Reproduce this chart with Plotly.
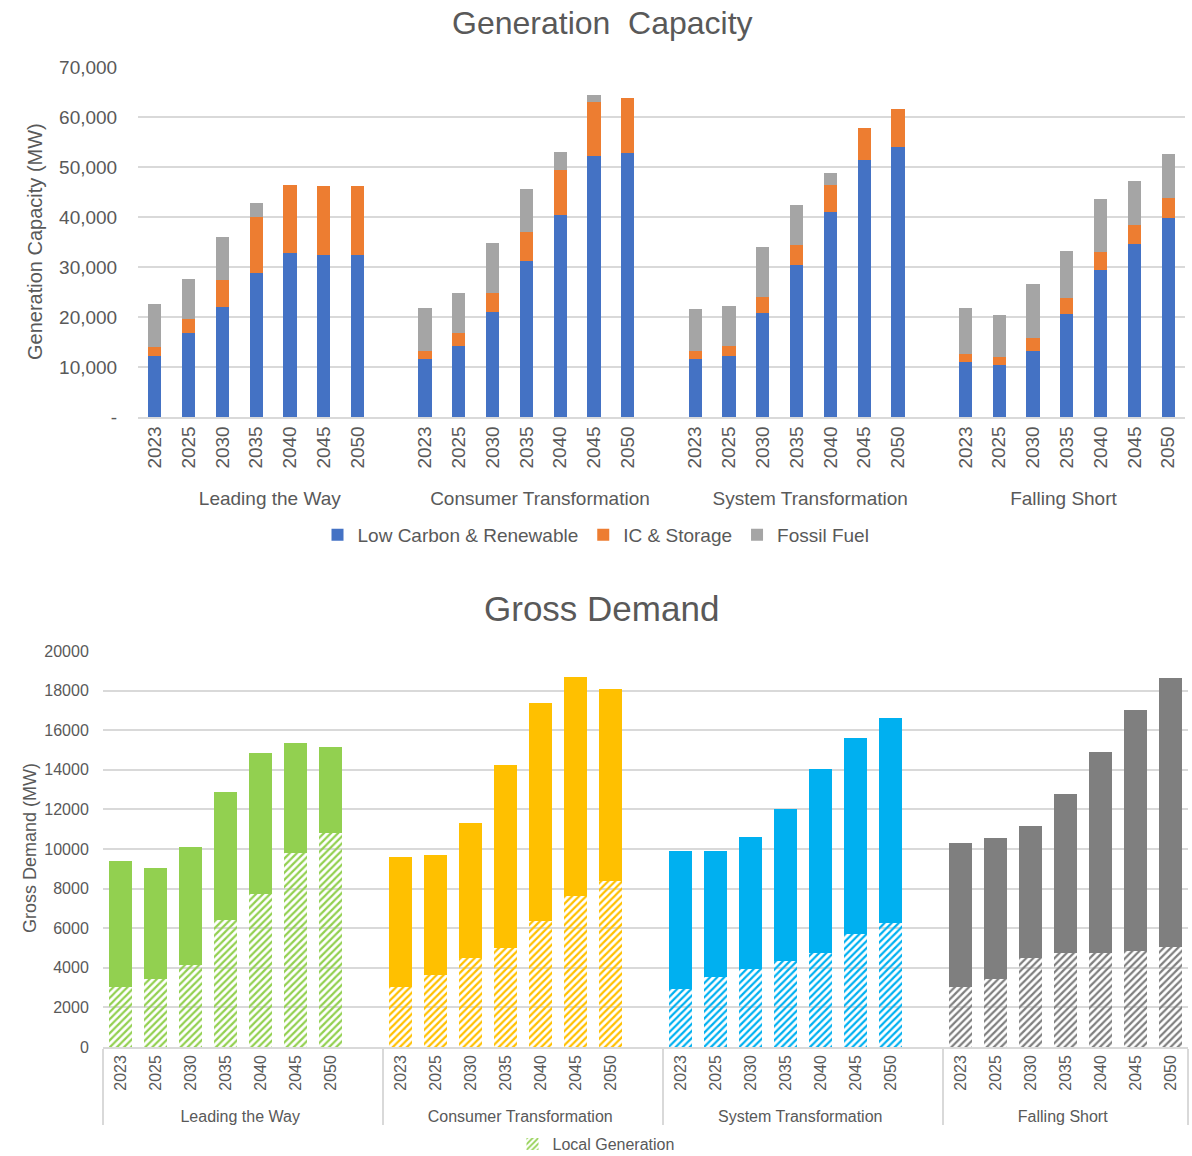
import plotly.graph_objects as go

# ---------------- data ----------------
scenarios = ["Leading the Way", "Consumer Transformation", "System Transformation", "Falling Short"]
years = ["2023", "2025", "2030", "2035", "2040", "2045", "2050"]

# Generation capacity (MW), 7 years per scenario in scenario order
low_carbon = [12200, 16900, 22000, 28900, 32900, 32500, 32500,
              11600, 14300, 21000, 31300, 40500, 52200, 52800,
              11600, 12200, 20800, 30400, 41000, 51400, 54000,
              11000, 10400, 13200, 20600, 29500, 34600, 39900]
ic_storage = [1900, 2800, 5500, 11100, 13600, 13800, 13800,
              1600, 2500, 3900, 5700, 9000, 10900, 11000,
              1600, 2100, 3300, 4000, 5500, 6500, 7700,
              1700, 1600, 2700, 3300, 3500, 3800, 3900]
fossil_fuel = [8450, 7900, 8450, 2900, 0, 0, 0,
               8700, 8000, 10000, 8700, 3500, 1300, 0,
               8500, 7900, 9900, 8000, 2400, 0, 0,
               9050, 8450, 10700, 9300, 10650, 8900, 8850]

# Gross demand (MW)
gross_demand = [9390, 9050, 10090, 12870, 14830, 15330, 15130,
                9600, 9690, 11310, 14220, 17370, 18700, 18060,
                9890, 9890, 10620, 12010, 14050, 15620, 16610,
                10310, 10580, 11170, 12790, 14880, 17020, 18620]
local_generation = [3030, 3450, 4160, 6400, 7720, 9810, 10830,
                    3030, 3660, 4480, 5000, 6350, 7620, 8390,
                    2950, 3540, 3960, 4350, 4770, 5700, 6250,
                    3030, 3420, 4480, 4750, 4750, 4840, 5060]

cap_tickvals = [0, 10000, 20000, 30000, 40000, 50000, 60000, 70000]
cap_ticktext = ["-", "10,000", "20,000", "30,000", "40,000", "50,000", "60,000", "70,000"]
dem_tickvals = [0, 2000, 4000, 6000, 8000, 10000, 12000, 14000, 16000, 18000, 20000]

scenario_colors = ["#92D050", "#FFC000", "#00B0F0", "#7F7F7F"]

# ---------------- helpers ----------------
outer, inner = [], []
for gi, s in enumerate(scenarios):
    for yr in years:
        outer.append(s)
        inner.append(yr)
    if gi < len(scenarios) - 1:
        outer.append(s)
        inner.append(" ")


def pad(values):
    out, k = [], 0
    for gi in range(len(scenarios)):
        for _ in years:
            out.append(values[k])
            k += 1
        if gi < len(scenarios) - 1:
            out.append(None)
    return out


def per_bar_colors():
    out = []
    for gi, c in enumerate(scenario_colors):
        out += [c] * len(years)
        if gi < len(scenarios) - 1:
            out.append(c)
    return out


other_demand = [t - l for t, l in zip(gross_demand, local_generation)]
bar_cols = per_bar_colors()

TXT = "#595959"
GRID = "#D9D9D9"
FONT = "Liberation Sans, Arial, sans-serif"
W, H = 1192, 1156


def px(x):
    return min(max(x / W, 0), 1)


def py(y):
    return min(max(1 - y / H, 0), 1)


fig = go.Figure()

# ---------------- top chart ----------------
for name, vals, col in [("Low Carbon & Renewable", low_carbon, "#4472C4"),
                        ("IC & Storage", ic_storage, "#ED7D31"),
                        ("Fossil Fuel", fossil_fuel, "#A5A5A5")]:
    fig.add_trace(go.Bar(x=[outer, inner], y=pad(vals), name=name,
                         marker=dict(color=col, line=dict(width=0)),
                         width=0.39, xaxis="x", yaxis="y", legend="legend"))

# ---------------- bottom chart ----------------
fig.add_trace(go.Bar(x=[outer, inner], y=pad(local_generation), name="Local Generation",
                     marker=dict(color=bar_cols, line=dict(width=0),
                                 pattern=dict(shape="/", fgcolor=bar_cols, bgcolor="white",
                                              size=5, solidity=0.45, fillmode="replace")),
                     width=0.67, xaxis="x2", yaxis="y2", legend="legend2"))
fig.add_trace(go.Bar(x=[outer, inner], y=pad(other_demand), name="Gross Demand",
                     marker=dict(color=bar_cols, line=dict(width=0)),
                     width=0.67, xaxis="x2", yaxis="y2", showlegend=False))

fig.update_layout(
    width=W, height=H, margin=dict(l=0, r=0, t=0, b=0, autoexpand=False),
    template="none", barmode="stack",
    paper_bgcolor="white", plot_bgcolor="white",
    font=dict(family=FONT, color=TXT),
    xaxis=dict(domain=[px(138), px(1185)], anchor="y", type="multicategory",
               tickangle=-90, showdividers=False, tickfont=dict(size=19, color=TXT),
               showgrid=False, showline=True, linecolor=GRID, linewidth=1.5, ticks=""),
    yaxis=dict(domain=[py(417), py(67)], anchor="x", range=[0, 70000],
               tickvals=cap_tickvals, ticktext=cap_ticktext,
               tickfont=dict(size=19, color=TXT), showgrid=True, gridcolor=GRID, gridwidth=1.5,
               zeroline=False, ticks="outside", ticklen=16, tickcolor="rgba(0,0,0,0)"),
    xaxis2=dict(domain=[px(103), px(1188)], anchor="y2", type="multicategory",
                tickangle=-90, showdividers=True, dividercolor=GRID, dividerwidth=1.5,
                tickfont=dict(size=16, color=TXT), showgrid=False,
                showline=True, linecolor=GRID, linewidth=1.5, ticks=""),
    yaxis2=dict(domain=[py(1047), py(651)], anchor="x2", range=[0, 20000],
                tickvals=dem_tickvals, tickformat="d",
                tickfont=dict(size=16, color=TXT), showgrid=True, gridcolor=GRID, gridwidth=1.5,
                zeroline=False, ticks="outside", ticklen=10, tickcolor="rgba(0,0,0,0)"),
    legend=dict(orientation="h", x=px(596), xanchor="center", y=py(535), yanchor="middle",
                font=dict(size=19, color=TXT), traceorder="normal", bgcolor="rgba(0,0,0,0)"),
    legend2=dict(orientation="h", x=px(596), xanchor="center", y=py(1144), yanchor="middle",
                 font=dict(size=16, color=TXT), bgcolor="rgba(0,0,0,0)"),
    annotations=[
        dict(text="Generation  Capacity", x=px(602), y=py(23), xref="paper", yref="paper",
             showarrow=False, font=dict(size=32, color=TXT), xanchor="center", yanchor="middle"),
        dict(text="Gross Demand", x=px(601), y=py(608), xref="paper", yref="paper",
             showarrow=False, font=dict(size=35, color=TXT), xanchor="center", yanchor="middle"),
        dict(text="Generation Capacity (MW)", x=px(35), y=py(242), xref="paper", yref="paper",
             textangle=-90, showarrow=False, font=dict(size=20, color=TXT),
             xanchor="center", yanchor="middle"),
        dict(text="Gross Demand (MW)", x=px(30), y=py(848), xref="paper", yref="paper",
             textangle=-90, showarrow=False, font=dict(size=18, color=TXT),
             xanchor="center", yanchor="middle"),
    ],
)

# remove the browser's default 8px body margin so the figure fills the window exactly
fig.write_html("out.html", config={"displayModeBar": False},
               post_script="document.body.style.margin='0';document.body.style.overflow='hidden';")
